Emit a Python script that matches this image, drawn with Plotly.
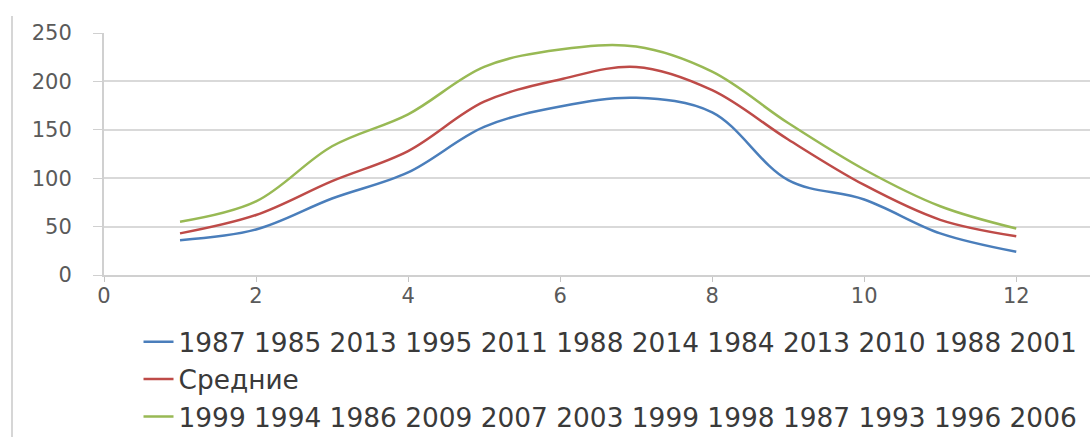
import plotly.graph_objects as go

# month index and the three monthly series
months = [1, 2, 3, 4, 5, 6, 7, 8, 9, 10, 11, 12]
low_years = [36, 47, 79, 106, 153, 174, 183, 168, 98, 78, 43, 24]
mean_vals = [43, 62, 97, 128, 179, 202, 215, 191, 140, 93, 57, 40]
high_years = [55, 76, 133, 166, 215, 233, 236, 210, 157, 109, 71, 48]

names = [
    "1987 1985 2013 1995 2011 1988 2014 1984 2013 2010 1988 2001",
    "Средние",
    "1999 1994 1986 2009 2007 2003 1999 1998 1987 1993 1996 2006",
]
colors = ["#4a7ebb", "#be4b48", "#98b954"]
x_ticks = [0, 2, 4, 6, 8, 10, 12]
y_ticks = [0, 50, 100, 150, 200, 250]

fig = go.Figure()
for vals, name, col in zip([low_years, mean_vals, high_years], names, colors):
    fig.add_trace(go.Scatter(
        x=months, y=vals, name=name, mode="lines",
        line=dict(color=col, width=2.5, shape="spline", smoothing=1.0),
    ))

tick_font = dict(family="DejaVu Sans", size=21, color="#5a5a5a")

fig.update_layout(
    width=1090, height=437,
    margin=dict(l=104, r=0, t=33, b=162, autoexpand=False),
    paper_bgcolor="white", plot_bgcolor="white",
    showlegend=True,
    legend=dict(
        orientation="v", x=0.035, xanchor="left", y=-0.178, yanchor="top",
        font=dict(family="DejaVu Sans", size=26.4, color="#3a3a3a"),
        bgcolor="rgba(0,0,0,0)", tracegroupgap=0, itemwidth=30,
    ),
    xaxis=dict(
        range=[0, 12.97], tickvals=x_ticks, showgrid=False, zeroline=False,
        showline=True, linecolor="#d0d0d0", linewidth=2,
        ticks="outside", ticklen=5, tickcolor="#c4c4c4",
        tickfont=tick_font, ticklabelstandoff=-4,
    ),
    yaxis=dict(
        range=[0, 250], tickvals=y_ticks, showgrid=True, gridcolor="#d9d9d9",
        gridwidth=2, zeroline=False,
        showline=True, linecolor="#d0d0d0",
        linewidth=2, ticks="outside", ticklen=9, tickcolor="#d0d0d0",
        tickfont=tick_font, ticklabelstandoff=17,
    ),
)

# outer chart frame on the left side
fig.add_shape(type="line", xref="paper", yref="paper",
              x0=-92 / 986, x1=-92 / 986, y0=-1.0, y1=1.07,
              line=dict(color="#c8c8c8", width=1.5))

fig.write_html("out.html")
